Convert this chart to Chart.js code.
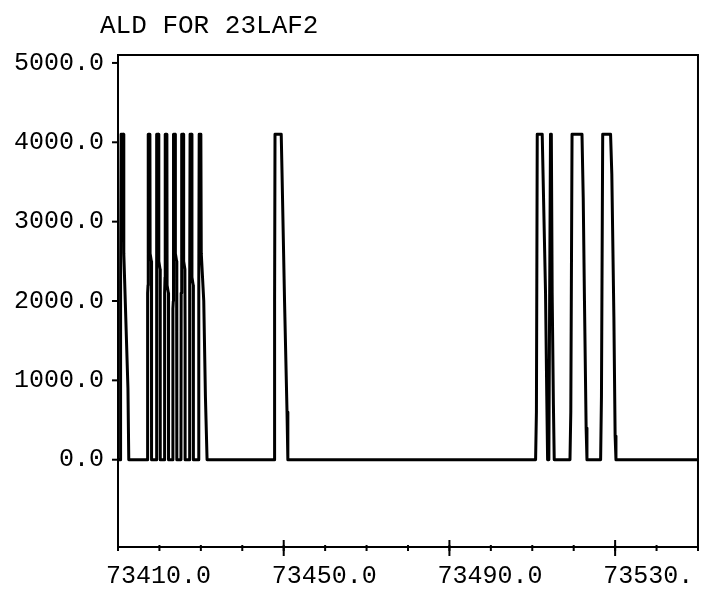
<!DOCTYPE html>
<html>
<head>
<meta charset="utf-8">
<title>ALD FOR 23LAF2</title>
<script src="https://cdn.jsdelivr.net/npm/chart.js@4/dist/chart.umd.min.js"></script>
<style>
    html, body { margin: 0; padding: 0; background: #fff; }
    #ald_wrap { width: 713px; height: 594px; }
</style>
</head>
<body>
<div id="ald_wrap"><canvas id="ald_chart" width="713" height="594"></canvas></div>
<script>
var chart_title = 'ALD FOR 23LAF2';

// Sample times and ALD level read back from the log
var scan_time = [
    73410.0, 73410.5, 73410.55, 73410.7, 73410.75, 73411.3, 73411.4, 73412.4, 73412.6,
    73417.1, 73417.15, 73417.25, 73417.3, 73417.7, 73417.75, 73418.05, 73418.1, 73418.1,
    73419.2, 73419.25, 73419.35, 73419.4, 73419.8, 73419.85, 73420.15, 73420.2, 73420.2,
    73421.2, 73421.25, 73421.35, 73421.4, 73421.8, 73421.85, 73422.15, 73422.2, 73422.2,
    73423.2, 73423.25, 73423.35, 73423.4, 73423.8, 73423.85, 73424.15, 73424.2, 73424.2,
    73425.2, 73425.25, 73425.35, 73425.4, 73425.8, 73425.85, 73426.15, 73426.2, 73426.2,
    73427.2, 73427.25, 73427.35, 73427.4, 73427.8, 73427.85, 73428.15, 73428.2, 73428.2,
    73429.4, 73429.45, 73429.55, 73429.6, 73430.0, 73430.1, 73430.7, 73431.1, 73431.5,
    73447.7, 73447.8, 73447.9, 73449.4, 73449.6, 73450.2, 73450.8, 73451.0,
    73510.8, 73511.0, 73511.2, 73512.4, 73512.6, 73513.2, 73513.5, 73513.7,
    73514.0, 73514.2, 73514.4, 73514.6, 73514.8, 73515.1, 73515.3,
    73519.1, 73519.3, 73519.6, 73522.0, 73522.3, 73522.6, 73523.0, 73523.2,
    73526.5, 73526.7, 73527.0, 73528.9, 73529.2, 73529.7, 73530.0, 73530.2,
    73550.0
];
var ald_level = [
    0, 0, 2100, 2200, 4100, 4100, 2600, 900, 0,
    0, 2100, 2200, 4100, 4100, 2600, 2500, 1600, 0,
    0, 2000, 2100, 4100, 4100, 2500, 2400, 1700, 0,
    0, 2100, 2300, 4100, 4100, 2200, 2100, 1500, 0,
    0, 1900, 2000, 4100, 4100, 2600, 2500, 1700, 0,
    0, 2100, 2200, 4100, 4100, 2500, 2400, 1600, 0,
    0, 2000, 2100, 4100, 4100, 2300, 2200, 1500, 0,
    0, 2100, 2200, 4100, 4100, 2600, 2000, 800, 0,
    0, 2000, 4100, 4100, 3600, 2000, 600, 0,
    0, 600, 4100, 4100, 3600, 2100, 800, 0,
    0, 2100, 4100, 4100, 2100, 700, 0,
    0, 600, 4100, 4100, 3300, 2000, 400, 0,
    0, 800, 4100, 4100, 3600, 1800, 300, 0,
    0
];

// Axis ticks and labels
var y_ticks = [0, 1000, 2000, 3000, 4000, 5000];
var y_labels = ['0.0', '1000.0', '2000.0', '3000.0', '4000.0', '5000.0'];
var x_label_at = [73410, 73450, 73490, 73530];
var x_labels = ['73410.0', '73450.0', '73490.0', '73530.'];
var x_major = [73450, 73490, 73530];
var x_minor = [73410, 73420, 73430, 73440, 73450, 73460, 73470, 73480,
               73490, 73500, 73510, 73520, 73530, 73540, 73550];

var FONT = '"Liberation Mono", "DejaVu Sans Mono", monospace';

// Box, tick marks and heading, drawn over the plot
var plotFrame = {
    id: 'plotFrame',
    afterDraw: function (chart) {
        var c = chart.ctx
        ,   a = chart.chartArea
        ,   xs = chart.scales.x
        ,   ys = chart.scales.y
        ;
        c.save();
        c.strokeStyle = '#000';
        c.lineWidth = 2;
        c.strokeRect(a.left, a.top, a.right - a.left, a.bottom - a.top);

        y_ticks.forEach(function (v) {
            var y = ys.getPixelForValue(v);
            c.beginPath();
            c.moveTo(a.left - 6, y);
            c.lineTo(a.left, y);
            c.stroke();
        });

        x_minor.forEach(function (v) {
            var x = xs.getPixelForValue(v);
            c.beginPath();
            c.moveTo(x, a.bottom - 2);
            c.lineTo(x, a.bottom + 4);
            c.stroke();
        });

        x_major.forEach(function (v) {
            var x = xs.getPixelForValue(v);
            c.beginPath();
            c.moveTo(x, a.bottom - 7);
            c.lineTo(x, a.bottom + 9);
            c.stroke();
        });

        c.fillStyle = '#000';
        c.font = '26px ' + FONT;
        c.textBaseline = 'middle';
        c.textAlign = 'left';
        c.fillText(chart_title, a.left - 18, 26);
        c.restore();
    }
};

var points = [];
scan_time.forEach(function (t, i) {
    points.push({ x: t, y: ald_level[i] });
});

var ctx = document.getElementById('ald_chart').getContext('2d');
var chart = new Chart(ctx, {
    type: 'scatter',
    data: {
        datasets: [{
            data: points,
            showLine: true,
            borderColor: '#000',
            borderWidth: 3,
            borderJoinStyle: 'round',
            borderCapStyle: 'round',
            pointRadius: 0,
            tension: 0,
            fill: false
        }]
    },
    options: {
        responsive: false,
        animation: false,
        layout: { padding: { top: 55, right: 13, bottom: 0, left: 0 } },
        plugins: {
            legend: { display: false },
            tooltip: { enabled: false },
            title: { display: false }
        },
        scales: {
            x: {
                type: 'linear',
                min: 73410,
                max: 73550,
                grid: { display: false },
                border: { display: false },
                afterBuildTicks: function (scale) {
                    scale.ticks = x_label_at.map(function (v) { return { value: v }; });
                },
                afterFit: function (scale) { scale.height = 47; },
                ticks: {
                    color: '#000',
                    font: { family: FONT, size: 25 },
                    align: 'start',
                    labelOffset: -12,
                    padding: 6,
                    maxRotation: 0,
                    autoSkip: false,
                    callback: function (v) {
                        var i = x_label_at.indexOf(v);
                        return i < 0 ? '' : x_labels[i];
                    }
                }
            },
            y: {
                type: 'linear',
                min: -1100,
                max: 5100,
                grid: { display: false },
                border: { display: false },
                afterBuildTicks: function (scale) {
                    scale.ticks = y_ticks.map(function (v) { return { value: v }; });
                },
                afterFit: function (scale) { scale.width = 118; },
                ticks: {
                    color: '#000',
                    font: { family: FONT, size: 25 },
                    padding: 6,
                    callback: function (v) {
                        var i = y_ticks.indexOf(v);
                        return i < 0 ? '' : y_labels[i];
                    }
                }
            }
        }
    },
    plugins: [plotFrame]
});
</script>
</body>
</html>
